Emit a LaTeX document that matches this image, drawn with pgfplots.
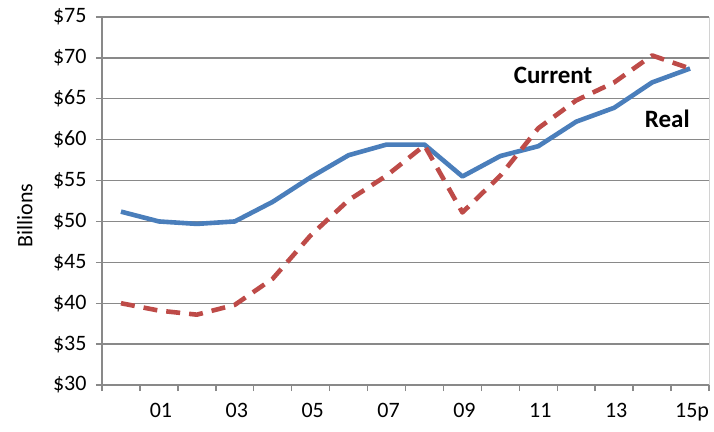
\documentclass[border=0pt]{standalone}
\usepackage{pgfplots}
\pgfplotsset{compat=1.18}
\usepackage{fontspec}
\setmainfont{Carlito}
\definecolor{realblue}{HTML}{4A7EBB}
\definecolor{curred}{HTML}{BE4B48}
\definecolor{gridgray}{HTML}{898989}
\begin{document}
\begin{tikzpicture}[font=\fontsize{22bp}{26bp}\selectfont]
\path[use as bounding box] (-102bp,-47bp) rectangle (612bp,385bp);
\begin{axis}[
  at={(0,0)}, anchor=south west,
  scale only axis, width=607bp, height=368bp,
  xmin=-0.5, xmax=15.5, ymin=30, ymax=75,
  axis x line*=bottom, axis y line*=left,
  axis line style={gridgray, line width=1.5bp, -},
  ytick={30,35,...,75},
  yticklabels={\$30,\$35,\$40,\$45,\$50,\$55,\$60,\$65,\$70,\$75},
  ymajorgrids, grid style={gridgray, line width=1.4bp},
  xtick={-0.5,0.5,...,15.5}, xticklabels={},
  extra x ticks={1,3,5,7,9,11,13,15},
  extra x tick labels={01,03,05,07,09,11,13,15p},
  extra x tick style={major tick length=0pt, xticklabel style={yshift=-15bp, xshift=2bp}},
  tick align=outside, major tick length=6bp,
  tick style={gridgray, line width=1.4bp},
  yticklabel style={xshift=-6bp},
  ylabel={Billions},
  ylabel style={at={(axis description cs:-0.127,0.46)}, anchor=center},
  clip=false,
]
\draw[gray!35, line width=1bp] (rel axis cs:1,0) -- (rel axis cs:1,1);
\addplot[realblue, line width=4.6bp, line join=round] coordinates {
(0,51.2) (1,50.0) (2,49.7) (3,50.0) (4,52.4) (5,55.4) (6,58.1) (7,59.4)
(8,59.4) (9,55.5) (10,58.0) (11,59.2) (12,62.2) (13,63.9) (14,67.0) (15,68.7)};
\addplot[curred, line width=4.6bp, dash pattern=on 14bp off 9bp, line join=round] coordinates {
(0,40.0) (1,39.1) (2,38.6) (3,39.8) (4,43.0) (5,48.3) (6,52.6) (7,55.6)
(8,59.3) (9,51.1) (10,55.6) (11,61.4) (12,64.8) (13,67.0) (14,70.3) (15,68.7)};
\node[font=\fontsize{25bp}{29bp}\selectfont\bfseries] at (axis cs:11.39,67.9) {Current};
\node[font=\fontsize{25bp}{29bp}\selectfont\bfseries] at (axis cs:14.4,62.6) {Real};
\end{axis}
\end{tikzpicture}
\end{document}
